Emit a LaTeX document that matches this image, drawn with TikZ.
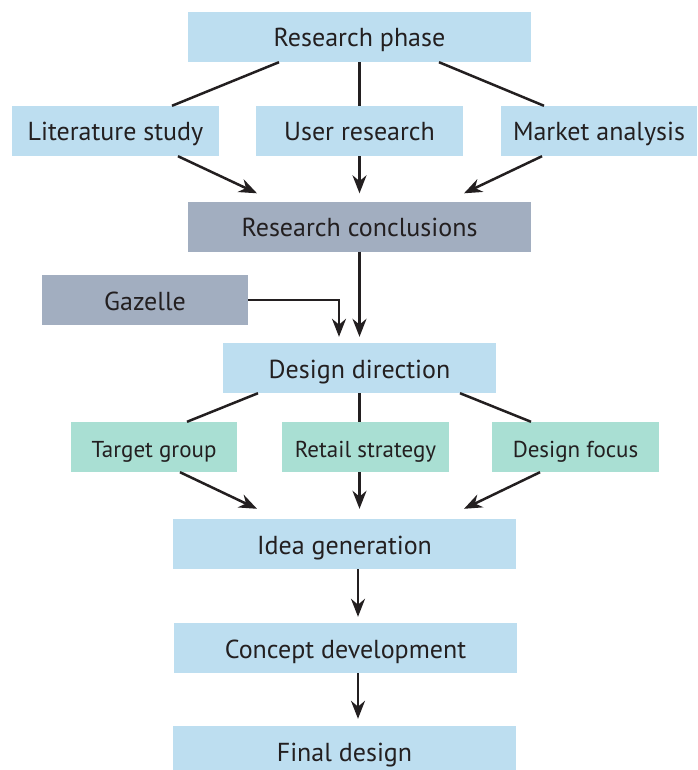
\documentclass[tikz,border=0pt]{standalone}
\usepackage{fontspec}
\setmainfont{PT Sans}
\usetikzlibrary{arrows.meta}
\definecolor{boxblue}{RGB}{189,222,240}
\definecolor{boxgray}{RGB}{162,174,192}
\definecolor{boxgreen}{RGB}{169,223,211}
\definecolor{ink}{RGB}{35,31,32}
\begin{document}
\begin{tikzpicture}
			[x=1pt,y=-1pt,
			every node/.style={inner sep=0pt, minimum height=50pt,
			text height=22pt, text depth=2pt,
			text=ink, font=\fontsize{26}{30}\selectfont},
			phasebox/.style={fill=boxblue},
			inputbox/.style={fill=boxgray},
			focusbox/.style={fill=boxgreen, font=\fontsize{23}{27}\selectfont},
			link/.style={draw=ink, line width=2.5pt},
			flow/.style={link, -{Stealth[length=18pt,width=14pt]}}]
			\useasboundingbox (0,0) rectangle (697,770);

			\node[phasebox, minimum width=343pt] (rp)  at (359.5,37)  {Research phase};
			\node[phasebox, minimum width=207pt] (lit) at (115.5,131) {Literature study};
			\node[phasebox, minimum width=207pt] (usr) at (359.5,131) {User research};
			\node[phasebox, minimum width=196pt] (mkt) at (599,131)   {Market analysis};

			\node[inputbox, minimum width=343pt] (rc)  at (359.5,226.5) {Research conclusions};
			\node[inputbox, minimum width=206pt] (gaz) at (145,300)     {Gazelle};

			\node[phasebox, minimum width=273pt] (dd)  at (359.5,368) {Design direction};
			\node[focusbox, minimum width=166pt] (tg)  at (154,447)   {Target group};
			\node[focusbox, minimum width=167pt] (rs)  at (365.5,447) {Retail strategy};
			\node[focusbox, minimum width=167pt] (df)  at (575.5,447) {Design focus};

			\node[phasebox, minimum width=343pt] (ig)  at (344.5,544) {Idea generation};
			\node[phasebox, minimum width=343pt] (cd)  at (345.5,648) {Concept development};
			\node[phasebox, minimum width=343pt] (fd)  at (344.5,751) {Final design};

			% splitting lines
			\draw[link] ([xshift=-80.5pt]rp.south) -- ([xshift=56.5pt]lit.north);
			\draw[link] (rp.south) -- (usr.north);
			\draw[link] ([xshift=79.5pt]rp.south) -- ([xshift=-55pt]mkt.north);

			\draw[link] ([xshift=-101.5pt]dd.south) -- ([xshift=33pt]tg.north);
			\draw[link] (dd.south) -- (dd.south |- rs.north);
			\draw[link] ([xshift=100.5pt]dd.south) -- ([xshift=-44.5pt]df.north);

			% merging arrows
			\draw[flow] ([xshift=62.5pt]lit.south) -- ([xshift=-102.5pt,yshift=8pt]rc.north);
			\draw[flow] (usr.south) -- ([yshift=8pt]rc.north);
			\draw[flow] ([xshift=-57pt]mkt.south) -- ([xshift=104.5pt,yshift=8pt]rc.north);

			\draw[flow] (rc.south) -- ([yshift=6pt]dd.north);
			\draw[flow] (gaz.east) -| ([xshift=-20.5pt,yshift=6pt]dd.north);

			\draw[flow] ([xshift=26pt]tg.south) -- ([xshift=-87.5pt,yshift=10pt]ig.north);
			\draw[flow] (dd.south |- rs.south) -- ([xshift=15pt,yshift=10pt]ig.north);
			\draw[flow] ([xshift=-35.5pt]df.south) -- ([xshift=119.5pt,yshift=10pt]ig.north);

			\draw[flow] ([xshift=13.5pt]ig.south) -- ([xshift=12.5pt,yshift=6pt]cd.north);
			\draw[flow] ([xshift=12.5pt]cd.south) -- ([xshift=13.5pt,yshift=7pt]fd.north);
		\end{tikzpicture}
\end{document}
